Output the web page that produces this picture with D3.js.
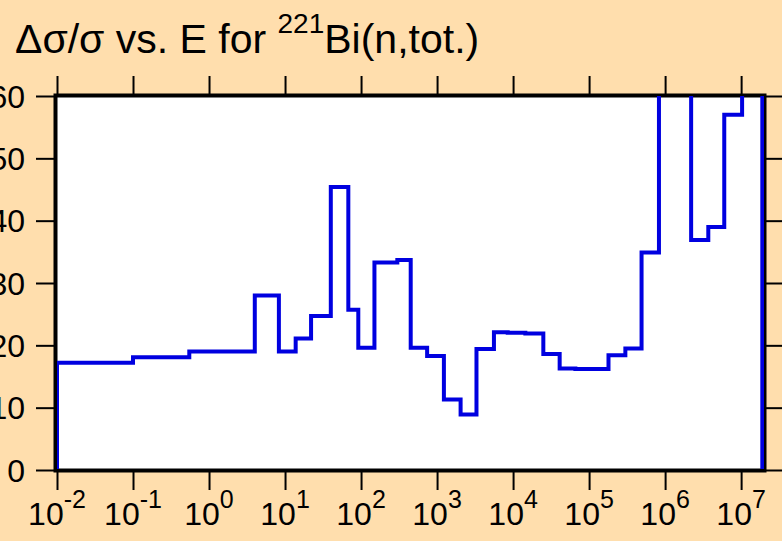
<!DOCTYPE html>
<html>
<head>
<meta charset="utf-8">
<script src="https://cdn.jsdelivr.net/npm/d3@7"></script>
<style>
body { margin: 0; background: #ffdead; }
svg { display: block; font-family: "Liberation Sans", Arial, sans-serif; }
</style>
</head>
<body>
<svg width="782" height="541"></svg>
<script>
// bin edges (eV) and relative uncertainty (%) per bin
var edges = [1e-2, 0.1, 0.55, 4.0, 8.3, 13.8, 22, 40, 68, 92, 150, 300, 450, 740, 1230, 2040, 3300,
    5600, 8500, 14500, 25000, 41000, 66000, 1.1e5, 1.8e5, 3.0e5, 4.9e5, 8.3e5, 2.2e6, 3.7e6, 6.0e6, 1.03e7, 1.9e7];
var values = [17.2, 18.1, 19.0, 28.0, 19.0, 21.1, 24.7, 45.4, 25.7, 19.6, 33.3, 33.7, 19.6, 18.3, 11.3, 8.9,
    19.4, 22.1, 22.0, 21.9, 18.6, 16.3, 16.2, 16.2, 18.4, 19.5, 34.9, 62, 36.9, 39.0, 57.0, 62];
var xTicks = [-2, -1, 0, 1, 2, 3, 4, 5, 6, 7];
var yTicks = [0, 10, 20, 30, 40, 50, 60];

var svg = d3.select("svg");
var mLeft = 57, mRight = 764, mTop = 96, mBottom = 470;

var x = d3.scaleLog().domain([1e-2, 2e7]).range([mLeft, mRight]);
var y = d3.scaleLinear().domain([0, 60]).range([mBottom, mTop]);

svg.append("text")
    .attr("x", 15).attr("y", 53)
    .attr("font-size", 41)
    .call(function(t) {
        t.append("tspan").text("\u0394\u03c3/\u03c3 vs. E for ");
        t.append("tspan").attr("font-size", 28).attr("dy", -20).text("221");
        t.append("tspan").attr("dy", 20).text("Bi(n,tot.)");
    });

svg.append("rect")
    .attr("x", mLeft).attr("y", mTop)
    .attr("width", mRight - mLeft).attr("height", mBottom - mTop)
    .attr("fill", "white");

// ticks on all four sides
var tickVals = xTicks.map(function(p) { return Math.pow(10, p); });
function styleAxis(g) {
    g.select(".domain").remove();
    g.selectAll(".tick line").attr("stroke", "black").attr("stroke-width", 2);
    g.selectAll(".tick text").remove();
}
svg.append("g").attr("transform", "translate(0," + mBottom + ")")
    .call(d3.axisBottom(x).tickValues(tickVals).tickSize(20)).call(styleAxis);
svg.append("g").attr("transform", "translate(0," + mTop + ")")
    .call(d3.axisTop(x).tickValues(tickVals).tickSize(20)).call(styleAxis);
svg.append("g").attr("transform", "translate(" + mLeft + ",0)")
    .call(d3.axisLeft(y).tickValues(yTicks).tickSize(21)).call(styleAxis);
svg.append("g").attr("transform", "translate(" + mRight + ",0)")
    .call(d3.axisRight(y).tickValues(yTicks).tickSize(20)).call(styleAxis);

// frame
svg.append("rect")
    .attr("x", mLeft - 1.5).attr("y", mTop - 0.5)
    .attr("width", mRight - mLeft + 2).attr("height", mBottom - mTop + 1)
    .attr("fill", "none").attr("stroke", "black").attr("stroke-width", 4);

svg.append("clipPath").attr("id", "clip")
    .append("rect")
    .attr("x", mLeft).attr("y", mTop)
    .attr("width", mRight - mLeft).attr("height", mBottom - mTop - 1);

// step path
var pts = [[edges[0], 0]];
values.forEach(function(v, i) {
    pts.push([edges[i], v]);
    pts.push([edges[i + 1], v]);
});
pts.push([edges[edges.length - 1], 0]);

var line = d3.line()
    .x(function(d) { return x(d[0]); })
    .y(function(d) { return y(d[1]); });

svg.append("path")
    .datum(pts)
    .attr("clip-path", "url(#clip)")
    .attr("d", line)
    .attr("fill", "none")
    .attr("stroke", "#0000e0")
    .attr("stroke-width", 4);

// x tick labels
svg.append("g").selectAll("text")
    .data(xTicks)
    .join("text")
    .attr("x", function(p) { return x(Math.pow(10, p)); })
    .attr("y", 525)
    .attr("text-anchor", "middle")
    .attr("font-size", 32)
    .each(function(p) {
        var t = d3.select(this);
        t.append("tspan").text("10");
        t.append("tspan").attr("font-size", 25).attr("dy", -17).text(p < 0 ? "-" + (-p) : p);
    });

// y tick labels
svg.append("g").selectAll("text")
    .data(yTicks)
    .join("text")
    .attr("x", 25)
    .attr("y", function(d) { return y(d); })
    .attr("dy", "0.36em")
    .attr("text-anchor", "end")
    .attr("font-size", 32)
    .text(function(d) { return d; });
</script>
</body>
</html>
